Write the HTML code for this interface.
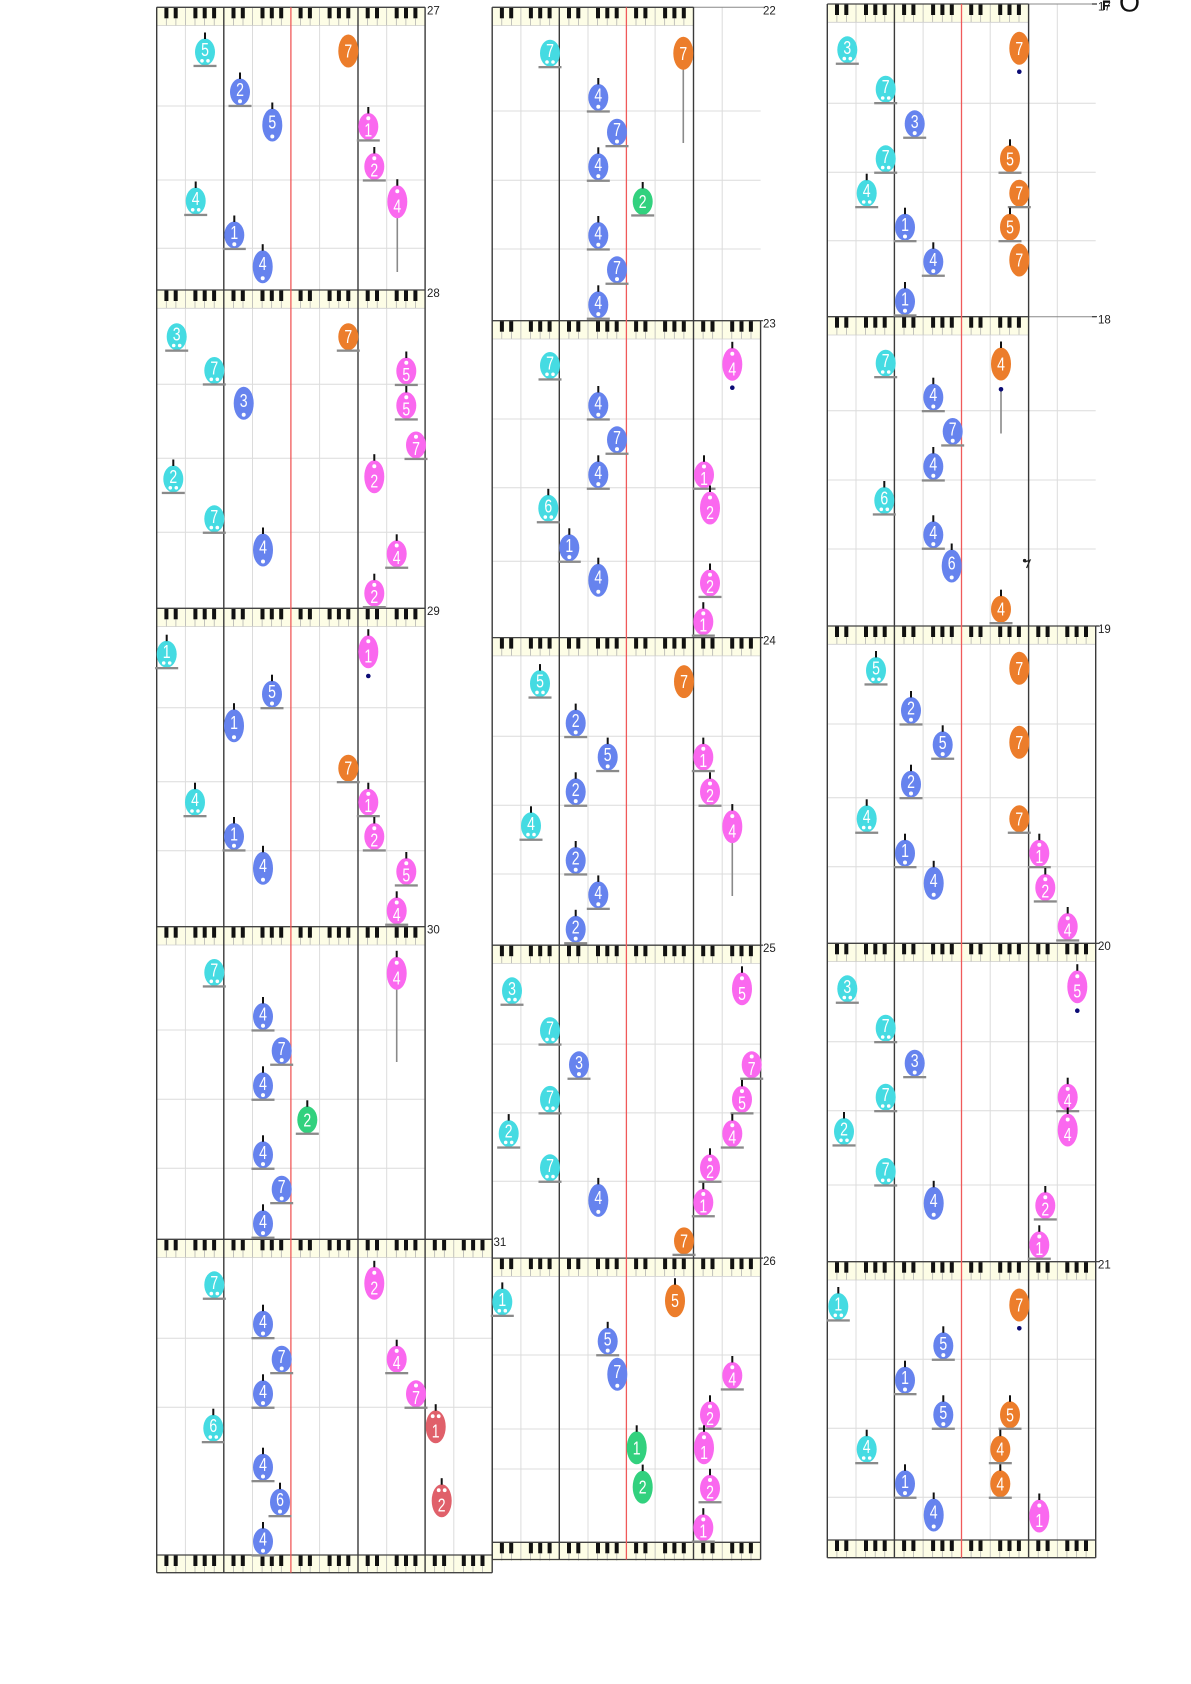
<!DOCTYPE html>
<html><head><meta charset="utf-8">
<style>
html,body{margin:0;padding:0;background:#fff;}
svg{display:block;}
.N text{fill:#fff;font-family:"Liberation Sans",sans-serif;font-size:18.5px;text-anchor:middle;transform:scaleX(.76);}
.L{font-family:"Liberation Sans",sans-serif;font-size:11.5px;fill:#222;}
</style></head>
<body>
<svg width="1191" height="1684" viewBox="0 0 1191 1684" xmlns="http://www.w3.org/2000/svg">
<defs>
<ellipse id="E" rx="10" ry="13.5"/>
<ellipse id="T" rx="10" ry="16.5"/>
<rect id="U" x="-11.5" y="12.8" width="23" height="2.3" fill="#8a8a8a"/>
<rect id="ks" x="-1" y="-19.5" width="2" height="6.5" fill="#111"/>
<rect id="kt" x="-1" y="-22.5" width="2" height="6.5" fill="#111"/>
<g id="cs" fill="#45dbe2"><use href="#E"/><use href="#U"/><circle cx="-3" cy="8.8" r="1.8" fill="#fff"/><circle cx="3" cy="8.8" r="1.8" fill="#fff"/></g>
<g id="bs" fill="#6683ee"><use href="#E"/><use href="#U"/><circle cx="0" cy="9.3" r="2" fill="#fff"/></g>
<g id="bt" fill="#6683ee"><use href="#T"/><circle cx="0" cy="11.5" r="2" fill="#fff"/></g>
<g id="ms" fill="#fa68ef"><use href="#E"/><use href="#U"/><circle cx="0" cy="-8.3" r="2" fill="#fff"/></g>
<g id="mt" fill="#fa68ef"><use href="#T"/><circle cx="0" cy="-10.5" r="2" fill="#fff"/></g>
<g id="os" fill="#ec7d2b"><use href="#E"/><use href="#U"/></g>
<g id="ot" fill="#ec7d2b"><use href="#T"/></g>
<g id="gs" fill="#32d17e"><use href="#E"/><use href="#U"/></g>
<g id="gt" fill="#32d17e"><use href="#T"/></g>
<g id="rt" fill="#e0606a"><use href="#T"/><circle cx="-3" cy="-10.5" r="1.9" fill="#fff"/><circle cx="3" cy="-10.5" r="1.9" fill="#fff"/></g>
<g id="K">
<rect width="67.1" height="18.3" fill="#fdfde6"/>
<path d="M9.6 11V18.3M19.2 11V18.3M28.7 0V18.3M38.3 11V18.3M47.9 11V18.3M57.5 11V18.3" stroke="#aaa" stroke-width=".7"/>
<rect x="7.7" width="4" height="11" fill="#111"/><rect x="17" width="4" height="11" fill="#111"/><rect x="36.7" width="4" height="11" fill="#111"/><rect x="46" width="4" height="11" fill="#111"/><rect x="55.4" width="4" height="11" fill="#111"/>
</g>
</defs>

<g stroke="#dcdcdc" stroke-width="1" fill="none">
<path d="M185.4 7.3V1572.7M252.5 7.3V1572.7M319.6 7.3V1572.7M386.7 7.3V1572.7M453.8 1239.3V1572.7"/>
<path d="M156.7 106H425.1M156.7 180H425.1M156.7 248.3H425.1M156.7 384.3H425.1M156.7 458.3H425.1M156.7 532.3H425.1M156.7 707.7H425.1M156.7 781.7H425.1M156.7 850.7H425.1M156.7 1030H425.1M156.7 1099.3H425.1M156.7 1168.3H425.1M156.7 1338.3H492.2M156.7 1407.3H492.2"/>
<path d="M520.9 7.3V1559.5M588 7.3V1559.5M655.1 7.3V1559.5M722.2 7.3V1559.5"/>
<path d="M492.2 111H760.6M492.2 180.3H760.6M492.2 249H760.6M492.2 419H760.6M492.2 487.7H760.6M492.2 561.3H760.6M492.2 736.2H760.6M492.2 805.3H760.6M492.2 874H760.6M492.2 1044.1H760.6M492.2 1112.9H760.6M492.2 1181.3H760.6M492.2 1355H760.6M492.2 1429H760.6M492.2 1469H760.6"/>
<path d="M856 4V1557.7M923.1 4V1557.7M990.2 4V1557.7M1057.3 4V1557.7"/>
<path d="M827.3 103.3H1095.7M827.3 172.3H1095.7M827.3 240.7H1095.7M827.3 410.7H1095.7M827.3 480H1095.7M827.3 549H1095.7M827.3 724H1095.7M827.3 797.7H1095.7M827.3 866.7H1095.7M827.3 1041.7H1095.7M827.3 1110.7H1095.7M827.3 1185H1095.7M827.3 1359.3H1095.7M827.3 1428.3H1095.7M827.3 1497.3H1095.7"/>
</g>

<use href="#K" x="156.7" y="7.3"/><use href="#K" x="223.8" y="7.3"/><use href="#K" x="290.9" y="7.3"/><use href="#K" x="358" y="7.3"/>
<use href="#K" x="156.7" y="290"/><use href="#K" x="223.8" y="290"/><use href="#K" x="290.9" y="290"/><use href="#K" x="358" y="290"/>
<use href="#K" x="156.7" y="608.3"/><use href="#K" x="223.8" y="608.3"/><use href="#K" x="290.9" y="608.3"/><use href="#K" x="358" y="608.3"/>
<use href="#K" x="156.7" y="926.7"/><use href="#K" x="223.8" y="926.7"/><use href="#K" x="290.9" y="926.7"/><use href="#K" x="358" y="926.7"/>
<use href="#K" x="156.7" y="1239.3"/><use href="#K" x="223.8" y="1239.3"/><use href="#K" x="290.9" y="1239.3"/><use href="#K" x="358" y="1239.3"/><use href="#K" x="425.1" y="1239.3"/>
<use href="#K" x="156.7" y="1555"/><use href="#K" x="223.8" y="1555"/><use href="#K" x="290.9" y="1555"/><use href="#K" x="358" y="1555"/><use href="#K" x="425.1" y="1555"/>
<use href="#K" x="492.2" y="7.3"/><use href="#K" x="559.3" y="7.3"/><use href="#K" x="626.4" y="7.3"/>
<use href="#K" x="492.2" y="320.7"/><use href="#K" x="559.3" y="320.7"/><use href="#K" x="626.4" y="320.7"/><use href="#K" x="693.5" y="320.7"/>
<use href="#K" x="492.2" y="637.6"/><use href="#K" x="559.3" y="637.6"/><use href="#K" x="626.4" y="637.6"/><use href="#K" x="693.5" y="637.6"/>
<use href="#K" x="492.2" y="945.2"/><use href="#K" x="559.3" y="945.2"/><use href="#K" x="626.4" y="945.2"/><use href="#K" x="693.5" y="945.2"/>
<use href="#K" x="492.2" y="1258.1"/><use href="#K" x="559.3" y="1258.1"/><use href="#K" x="626.4" y="1258.1"/><use href="#K" x="693.5" y="1258.1"/>
<use href="#K" x="492.2" y="1542.3"/><use href="#K" x="559.3" y="1542.3"/><use href="#K" x="626.4" y="1542.3"/><use href="#K" x="693.5" y="1542.3"/>
<use href="#K" x="827.3" y="4"/><use href="#K" x="894.4" y="4"/><use href="#K" x="961.5" y="4"/>
<use href="#K" x="827.3" y="316.7"/><use href="#K" x="894.4" y="316.7"/><use href="#K" x="961.5" y="316.7"/>
<use href="#K" x="827.3" y="626"/><use href="#K" x="894.4" y="626"/><use href="#K" x="961.5" y="626"/><use href="#K" x="1028.6" y="626"/>
<use href="#K" x="827.3" y="943.3"/><use href="#K" x="894.4" y="943.3"/><use href="#K" x="961.5" y="943.3"/><use href="#K" x="1028.6" y="943.3"/>
<use href="#K" x="827.3" y="1261.7"/><use href="#K" x="894.4" y="1261.7"/><use href="#K" x="961.5" y="1261.7"/><use href="#K" x="1028.6" y="1261.7"/>
<use href="#K" x="827.3" y="1540"/><use href="#K" x="894.4" y="1540"/><use href="#K" x="961.5" y="1540"/><use href="#K" x="1028.6" y="1540"/>

<g stroke="#cfcfcf" stroke-width=".8" fill="none">
<path d="M156.7 25.6H425.1M156.7 308.3H425.1M156.7 626.6H425.1M156.7 945H425.1M156.7 1257.6H492.2"/>
<path d="M492.2 25.6H693.5M492.2 339H760.6M492.2 655.9H760.6M492.2 963.5H760.6M492.2 1276.4H760.6"/>
<path d="M827.3 22.3H1028.6M827.3 335H1028.6M827.3 644.3H1095.7M827.3 961.6H1095.7M827.3 1280H1095.7"/>
</g>

<g stroke="#888" stroke-width="1" fill="none">
<path d="M693.5 7.3H764M1028.6 4H1096M1028.6 316.7H1096"/>
</g>
<g stroke="#333" stroke-width="1.2" fill="none">
<path d="M1092 4H1097M1092 316.7H1097M1095.7 626H1099M1095.7 943.3H1099M1095.7 1261.7H1099M760.6 320.7H763M760.6 637.6H763M760.6 945.2H763M760.6 1258.1H763"/>
</g>

<g stroke="#444" stroke-width="1.3" fill="none">
<path d="M156.7 7.3H425.1M156.7 290H425.1M156.7 608.3H425.1M156.7 926.7H425.1M156.7 1239.3H492.2M156.7 1555H492.2M156.7 1572.7H492.2"/>
<path d="M492.2 7.3H693.5M492.2 320.7H760.6M492.2 637.6H760.6M492.2 945.2H760.6M492.2 1258.1H760.6M492.2 1542.3H760.6M492.2 1559.5H760.6"/>
<path d="M827.3 4H1028.6M827.3 316.7H1028.6M827.3 626H1095.7M827.3 943.3H1095.7M827.3 1261.7H1095.7M827.3 1540H1095.7M827.3 1557.7H1095.7"/>
</g>

<g stroke="#3a3a3a" stroke-width="1.4" fill="none">
<path d="M156.7 7.3V1572.7M223.8 7.3V1572.7M358 7.3V1572.7M425.1 7.3V1572.7M492.2 1239.3V1572.7"/>
<path d="M492.2 7.3V1559.5M559.3 7.3V1559.5M693.5 7.3V1559.5M760.6 320.7V1559.5"/>
<path d="M827.3 4V1557.7M894.4 4V1557.7M1028.6 4V1557.7M1095.7 626V1557.7"/>
</g>
<g stroke="#f05a5a" stroke-width="1.3" fill="none">
<path d="M290.9 7.3V1572.7M626.4 7.3V1559.5M961.5 4V1557.7"/>
</g>

<g fill="#8a8a8a">
<rect x="396.5" y="216" width="1.6" height="56"/>
<rect x="395.9" y="989" width="1.6" height="73"/>
<rect x="682.5" y="69" width="1.6" height="74"/>
<rect x="731.5" y="842" width="1.6" height="54"/>
<rect x="1000.2" y="390" width="1.6" height="43.5"/>
</g>
<g fill="#0b0b75">
<circle cx="368.3" cy="676" r="2.3"/>
<circle cx="732.3" cy="387.7" r="2.3"/>
<circle cx="1019.3" cy="71.7" r="2.3"/>
<circle cx="1001" cy="389.3" r="2.3"/>
<circle cx="1077.3" cy="1010.7" r="2.3"/>
<circle cx="1019.3" cy="1328.3" r="2.3"/>
</g>
<circle cx="1024.6" cy="560.6" r="1.7" fill="#222"/>
<path d="M1024.6 562L1030 560.2L1026.6 568" stroke="#222" stroke-width="1.3" fill="none"/>

<g class="N">
<g transform="translate(205,52)"><use href="#cs"/><use href="#ks"/><text y="4">5</text></g>
<g transform="translate(348.3,51)"><use href="#ot"/><text y="6.5">7</text></g>
<g transform="translate(240,92)"><use href="#bs"/><use href="#ks"/><text y="4">2</text></g>
<g transform="translate(272.3,125)"><use href="#bt"/><use href="#kt"/><text y="3.5">5</text></g>
<g transform="translate(368.3,126.5)"><use href="#ms"/><use href="#ks"/><text y="10">1</text></g>
<g transform="translate(374.3,166.5)"><use href="#ms"/><use href="#ks"/><text y="10">2</text></g>
<g transform="translate(195.7,201)"><use href="#cs"/><use href="#ks"/><text y="4">4</text></g>
<g transform="translate(397.3,201.7)"><use href="#mt"/><use href="#kt"/><text y="11">4</text></g>
<g transform="translate(234.3,235)"><use href="#bs"/><use href="#ks"/><text y="4">1</text></g>
<g transform="translate(262.7,266.7)"><use href="#bt"/><use href="#kt"/><text y="3.5">4</text></g>
<g transform="translate(176.7,336.7)"><use href="#cs"/><text y="4">3</text></g>
<g transform="translate(348.3,336.7)"><use href="#os"/><text y="6.5">7</text></g>
<g transform="translate(214.3,370.5)"><use href="#cs"/><text y="4">7</text></g>
<g transform="translate(406.3,371)"><use href="#ms"/><use href="#ks"/><text y="10">5</text></g>
<g transform="translate(243.7,403.3)"><use href="#bt"/><text y="3.5">3</text></g>
<g transform="translate(406.3,405.5)"><use href="#ms"/><use href="#ks"/><text y="10">5</text></g>
<g transform="translate(416,445)"><use href="#ms"/><text y="10">7</text></g>
<g transform="translate(173.3,479)"><use href="#cs"/><use href="#ks"/><text y="4">2</text></g>
<g transform="translate(374.3,476.7)"><use href="#mt"/><use href="#kt"/><text y="11">2</text></g>
<g transform="translate(214.3,518.8)"><use href="#cs"/><text y="4">7</text></g>
<g transform="translate(263,550)"><use href="#bt"/><use href="#kt"/><text y="3.5">4</text></g>
<g transform="translate(396.7,553.8)"><use href="#ms"/><use href="#ks"/><text y="10">4</text></g>
<g transform="translate(374.3,593.2)"><use href="#ms"/><use href="#ks"/><text y="10">2</text></g>
<g transform="translate(166.7,654.2)"><use href="#cs"/><use href="#ks"/><text y="4">1</text></g>
<g transform="translate(368.3,651.7)"><use href="#mt"/><use href="#kt"/><text y="11">1</text></g>
<g transform="translate(272,694.2)"><use href="#bs"/><use href="#ks"/><text y="4">5</text></g>
<g transform="translate(234,725.7)"><use href="#bt"/><use href="#kt"/><text y="3.5">1</text></g>
<g transform="translate(348.3,768.2)"><use href="#os"/><text y="6.5">7</text></g>
<g transform="translate(195,802.2)"><use href="#cs"/><use href="#ks"/><text y="4">4</text></g>
<g transform="translate(368.3,802.2)"><use href="#ms"/><use href="#ks"/><text y="10">1</text></g>
<g transform="translate(234,836.5)"><use href="#bs"/><use href="#ks"/><text y="4">1</text></g>
<g transform="translate(374.3,836.5)"><use href="#ms"/><use href="#ks"/><text y="10">2</text></g>
<g transform="translate(263,868.3)"><use href="#bt"/><use href="#kt"/><text y="3.5">4</text></g>
<g transform="translate(406.3,871.5)"><use href="#ms"/><use href="#ks"/><text y="10">5</text></g>
<g transform="translate(396.7,910.8)"><use href="#ms"/><use href="#ks"/><text y="10">4</text></g>
<g transform="translate(214.3,972.5)"><use href="#cs"/><text y="4">7</text></g>
<g transform="translate(396.7,973.3)"><use href="#mt"/><use href="#kt"/><text y="11">4</text></g>
<g transform="translate(263,1016.5)"><use href="#bs"/><use href="#ks"/><text y="4">4</text></g>
<g transform="translate(281.7,1050.8)"><use href="#bs"/><text y="4">7</text></g>
<g transform="translate(263,1085.8)"><use href="#bs"/><use href="#ks"/><text y="4">4</text></g>
<g transform="translate(307.3,1119.8)"><use href="#gs"/><use href="#ks"/><text y="6.5">2</text></g>
<g transform="translate(263,1154.8)"><use href="#bs"/><use href="#ks"/><text y="4">4</text></g>
<g transform="translate(281.7,1189.2)"><use href="#bs"/><text y="4">7</text></g>
<g transform="translate(263,1223.8)"><use href="#bs"/><use href="#ks"/><text y="4">4</text></g>
<g transform="translate(214.3,1284.8)"><use href="#cs"/><text y="4">7</text></g>
<g transform="translate(374.3,1283.3)"><use href="#mt"/><use href="#kt"/><text y="11">2</text></g>
<g transform="translate(263,1324.2)"><use href="#bs"/><use href="#ks"/><text y="4">4</text></g>
<g transform="translate(281.7,1359.2)"><use href="#bs"/><text y="4">7</text></g>
<g transform="translate(396.7,1359.2)"><use href="#ms"/><use href="#ks"/><text y="10">4</text></g>
<g transform="translate(263,1393.8)"><use href="#bs"/><use href="#ks"/><text y="4">4</text></g>
<g transform="translate(416,1393.8)"><use href="#ms"/><text y="10">7</text></g>
<g transform="translate(213.3,1428.2)"><use href="#cs"/><use href="#ks"/><text y="4">6</text></g>
<g transform="translate(435.7,1426.7)"><use href="#rt"/><use href="#kt"/><text y="11">1</text></g>
<g transform="translate(263,1467.2)"><use href="#bs"/><use href="#ks"/><text y="4">4</text></g>
<g transform="translate(280,1502.2)"><use href="#bs"/><use href="#ks"/><text y="4">6</text></g>
<g transform="translate(441.7,1500.7)"><use href="#rt"/><use href="#kt"/><text y="11">2</text></g>
<g transform="translate(263,1541.5)"><use href="#bs"/><use href="#ks"/><text y="4">4</text></g>

<g transform="translate(550,53.2)"><use href="#cs"/><text y="4">7</text></g>
<g transform="translate(683.3,53.3)"><use href="#ot"/><text y="6.5">7</text></g>
<g transform="translate(598.3,97.5)"><use href="#bs"/><use href="#ks"/><text y="4">4</text></g>
<g transform="translate(617,132.2)"><use href="#bs"/><text y="4">7</text></g>
<g transform="translate(598.3,166.8)"><use href="#bs"/><use href="#ks"/><text y="4">4</text></g>
<g transform="translate(642.7,201.5)"><use href="#gs"/><use href="#ks"/><text y="6.5">2</text></g>
<g transform="translate(598.3,235.5)"><use href="#bs"/><use href="#ks"/><text y="4">4</text></g>
<g transform="translate(617,269.8)"><use href="#bs"/><text y="4">7</text></g>
<g transform="translate(598.3,304.8)"><use href="#bs"/><use href="#ks"/><text y="4">4</text></g>
<g transform="translate(550,365.5)"><use href="#cs"/><text y="4">7</text></g>
<g transform="translate(732.3,364.3)"><use href="#mt"/><use href="#kt"/><text y="11">4</text></g>
<g transform="translate(598.3,405.5)"><use href="#bs"/><use href="#ks"/><text y="4">4</text></g>
<g transform="translate(617,439.8)"><use href="#bs"/><text y="4">7</text></g>
<g transform="translate(598.3,474.8)"><use href="#bs"/><use href="#ks"/><text y="4">4</text></g>
<g transform="translate(704,474.8)"><use href="#ms"/><use href="#ks"/><text y="10">1</text></g>
<g transform="translate(548.3,508.3)"><use href="#cs"/><use href="#ks"/><text y="4">6</text></g>
<g transform="translate(710,508)"><use href="#mt"/><use href="#kt"/><text y="11">2</text></g>
<g transform="translate(569.3,547.8)"><use href="#bs"/><use href="#ks"/><text y="4">1</text></g>
<g transform="translate(598.3,580.2)"><use href="#bt"/><use href="#kt"/><text y="3.5">4</text></g>
<g transform="translate(710,583)"><use href="#ms"/><use href="#ks"/><text y="10">2</text></g>
<g transform="translate(703.3,621.7)"><use href="#ms"/><use href="#ks"/><text y="10">1</text></g>
<g transform="translate(540,683.6)"><use href="#cs"/><use href="#ks"/><text y="4">5</text></g>
<g transform="translate(684,681.6)"><use href="#ot"/><text y="6.5">7</text></g>
<g transform="translate(575.7,723.1)"><use href="#bs"/><use href="#ks"/><text y="4">2</text></g>
<g transform="translate(607.7,757.1)"><use href="#bs"/><use href="#ks"/><text y="4">5</text></g>
<g transform="translate(703.3,757.1)"><use href="#ms"/><use href="#ks"/><text y="10">1</text></g>
<g transform="translate(575.7,791.8)"><use href="#bs"/><use href="#ks"/><text y="4">2</text></g>
<g transform="translate(710,791.8)"><use href="#ms"/><use href="#ks"/><text y="10">2</text></g>
<g transform="translate(531,825.8)"><use href="#cs"/><use href="#ks"/><text y="4">4</text></g>
<g transform="translate(732.3,826.6)"><use href="#mt"/><use href="#kt"/><text y="11">4</text></g>
<g transform="translate(575.7,860.5)"><use href="#bs"/><use href="#ks"/><text y="4">2</text></g>
<g transform="translate(598.3,894.9)"><use href="#bs"/><use href="#ks"/><text y="4">4</text></g>
<g transform="translate(575.7,929.3)"><use href="#bs"/><use href="#ks"/><text y="4">2</text></g>
<g transform="translate(512,990.8)"><use href="#cs"/><text y="4">3</text></g>
<g transform="translate(742,988.8)"><use href="#mt"/><use href="#kt"/><text y="11">5</text></g>
<g transform="translate(550,1030.6)"><use href="#cs"/><text y="4">7</text></g>
<g transform="translate(579,1064.8)"><use href="#bs"/><text y="4">3</text></g>
<g transform="translate(751.7,1064.8)"><use href="#ms"/><text y="10">7</text></g>
<g transform="translate(550,1099.4)"><use href="#cs"/><text y="4">7</text></g>
<g transform="translate(742,1099.4)"><use href="#ms"/><use href="#ks"/><text y="10">5</text></g>
<g transform="translate(508.7,1133.6)"><use href="#cs"/><use href="#ks"/><text y="4">2</text></g>
<g transform="translate(732.3,1133.6)"><use href="#ms"/><use href="#ks"/><text y="10">4</text></g>
<g transform="translate(550,1167.8)"><use href="#cs"/><text y="4">7</text></g>
<g transform="translate(710,1167.8)"><use href="#ms"/><use href="#ks"/><text y="10">2</text></g>
<g transform="translate(598.3,1200.4)"><use href="#bt"/><use href="#kt"/><text y="3.5">4</text></g>
<g transform="translate(703.3,1202.3)"><use href="#ms"/><use href="#ks"/><text y="10">1</text></g>
<g transform="translate(684,1240.9)"><use href="#os"/><text y="6.5">7</text></g>
<g transform="translate(502.3,1301.9)"><use href="#cs"/><use href="#ks"/><text y="4">1</text></g>
<g transform="translate(675,1300.7)"><use href="#ot"/><use href="#kt"/><text y="6.5">5</text></g>
<g transform="translate(607.7,1341.3)"><use href="#bs"/><use href="#ks"/><text y="4">5</text></g>
<g transform="translate(617.3,1374.3)"><use href="#bt"/><text y="3.5">7</text></g>
<g transform="translate(732.3,1375.5)"><use href="#ms"/><use href="#ks"/><text y="10">4</text></g>
<g transform="translate(710,1414.8)"><use href="#ms"/><use href="#ks"/><text y="10">2</text></g>
<g transform="translate(636.7,1447.8)"><use href="#gt"/><use href="#kt"/><text y="6.5">1</text></g>
<g transform="translate(704,1447.8)"><use href="#mt"/><use href="#kt"/><text y="11">1</text></g>
<g transform="translate(642.7,1487.1)"><use href="#gt"/><use href="#kt"/><text y="6.5">2</text></g>
<g transform="translate(710,1488.3)"><use href="#ms"/><use href="#ks"/><text y="10">2</text></g>
<g transform="translate(703.3,1527.7)"><use href="#ms"/><use href="#ks"/><text y="10">1</text></g>

<g transform="translate(847.3,49.8)"><use href="#cs"/><text y="4">3</text></g>
<g transform="translate(1019.3,48.3)"><use href="#ot"/><text y="6.5">7</text></g>
<g transform="translate(885.7,89.2)"><use href="#cs"/><text y="4">7</text></g>
<g transform="translate(914.7,123.8)"><use href="#bs"/><text y="4">3</text></g>
<g transform="translate(885.7,158.8)"><use href="#cs"/><text y="4">7</text></g>
<g transform="translate(1010,158.8)"><use href="#os"/><use href="#ks"/><text y="6.5">5</text></g>
<g transform="translate(866.7,193.2)"><use href="#cs"/><use href="#ks"/><text y="4">4</text></g>
<g transform="translate(1019.3,193.2)"><use href="#os"/><text y="6.5">7</text></g>
<g transform="translate(905,227.2)"><use href="#bs"/><use href="#ks"/><text y="4">1</text></g>
<g transform="translate(1010,227.2)"><use href="#os"/><use href="#ks"/><text y="6.5">5</text></g>
<g transform="translate(933.3,261.8)"><use href="#bs"/><use href="#ks"/><text y="4">4</text></g>
<g transform="translate(1019.3,260)"><use href="#ot"/><text y="6.5">7</text></g>
<g transform="translate(905,301.5)"><use href="#bs"/><use href="#ks"/><text y="4">1</text></g>
<g transform="translate(885.7,363.2)"><use href="#cs"/><text y="4">7</text></g>
<g transform="translate(1001,364)"><use href="#ot"/><use href="#kt"/><text y="6.5">4</text></g>
<g transform="translate(933.3,397.2)"><use href="#bs"/><use href="#ks"/><text y="4">4</text></g>
<g transform="translate(952.7,431.5)"><use href="#bs"/><text y="4">7</text></g>
<g transform="translate(933.3,466.5)"><use href="#bs"/><use href="#ks"/><text y="4">4</text></g>
<g transform="translate(884.3,500.5)"><use href="#cs"/><use href="#ks"/><text y="4">6</text></g>
<g transform="translate(933.3,534.8)"><use href="#bs"/><use href="#ks"/><text y="4">4</text></g>
<g transform="translate(951.7,566)"><use href="#bt"/><use href="#kt"/><text y="3.5">6</text></g>
<g transform="translate(1001,609.2)"><use href="#os"/><use href="#ks"/><text y="6.5">4</text></g>
<g transform="translate(876,670.5)"><use href="#cs"/><use href="#ks"/><text y="4">5</text></g>
<g transform="translate(1019.3,668.3)"><use href="#ot"/><text y="6.5">7</text></g>
<g transform="translate(911,710.5)"><use href="#bs"/><use href="#ks"/><text y="4">2</text></g>
<g transform="translate(942.7,744.8)"><use href="#bs"/><use href="#ks"/><text y="4">5</text></g>
<g transform="translate(1019.3,742.3)"><use href="#ot"/><text y="6.5">7</text></g>
<g transform="translate(911,784.2)"><use href="#bs"/><use href="#ks"/><text y="4">2</text></g>
<g transform="translate(866.7,818.8)"><use href="#cs"/><use href="#ks"/><text y="4">4</text></g>
<g transform="translate(1019.3,818.8)"><use href="#os"/><text y="6.5">7</text></g>
<g transform="translate(905,853.2)"><use href="#bs"/><use href="#ks"/><text y="4">1</text></g>
<g transform="translate(1039.3,853.2)"><use href="#ms"/><use href="#ks"/><text y="10">1</text></g>
<g transform="translate(933.7,883.3)"><use href="#bt"/><use href="#kt"/><text y="3.5">4</text></g>
<g transform="translate(1045.3,887.5)"><use href="#ms"/><use href="#ks"/><text y="10">2</text></g>
<g transform="translate(1067.7,926.5)"><use href="#ms"/><use href="#ks"/><text y="10">4</text></g>
<g transform="translate(847.3,988.8)"><use href="#cs"/><text y="4">3</text></g>
<g transform="translate(1077.3,986.7)"><use href="#mt"/><use href="#kt"/><text y="11">5</text></g>
<g transform="translate(885.7,1028.2)"><use href="#cs"/><text y="4">7</text></g>
<g transform="translate(914.7,1063.2)"><use href="#bs"/><text y="4">3</text></g>
<g transform="translate(885.7,1097.2)"><use href="#cs"/><text y="4">7</text></g>
<g transform="translate(1067.7,1097.2)"><use href="#ms"/><use href="#ks"/><text y="10">4</text></g>
<g transform="translate(844,1131.5)"><use href="#cs"/><use href="#ks"/><text y="4">2</text></g>
<g transform="translate(1067.7,1130)"><use href="#mt"/><use href="#kt"/><text y="11">4</text></g>
<g transform="translate(885.7,1171.5)"><use href="#cs"/><text y="4">7</text></g>
<g transform="translate(933.7,1203.3)"><use href="#bt"/><use href="#kt"/><text y="3.5">4</text></g>
<g transform="translate(1045.3,1205.5)"><use href="#ms"/><use href="#ks"/><text y="10">2</text></g>
<g transform="translate(1039.3,1244.8)"><use href="#ms"/><use href="#ks"/><text y="10">1</text></g>
<g transform="translate(838.3,1306.5)"><use href="#cs"/><use href="#ks"/><text y="4">1</text></g>
<g transform="translate(1019.3,1305)"><use href="#ot"/><text y="6.5">7</text></g>
<g transform="translate(943.3,1345.8)"><use href="#bs"/><use href="#ks"/><text y="4">5</text></g>
<g transform="translate(905,1380.2)"><use href="#bs"/><use href="#ks"/><text y="4">1</text></g>
<g transform="translate(943.3,1414.8)"><use href="#bs"/><use href="#ks"/><text y="4">5</text></g>
<g transform="translate(1010,1414.8)"><use href="#os"/><use href="#ks"/><text y="6.5">5</text></g>
<g transform="translate(866.7,1449.2)"><use href="#cs"/><use href="#ks"/><text y="4">4</text></g>
<g transform="translate(1000.3,1449.2)"><use href="#os"/><use href="#ks"/><text y="6.5">4</text></g>
<g transform="translate(905,1483.8)"><use href="#bs"/><use href="#ks"/><text y="4">1</text></g>
<g transform="translate(1000.3,1483.8)"><use href="#os"/><use href="#ks"/><text y="6.5">4</text></g>
<g transform="translate(933.7,1515)"><use href="#bt"/><use href="#kt"/><text y="3.5">4</text></g>
<g transform="translate(1039.3,1516)"><use href="#mt"/><use href="#kt"/><text y="11">1</text></g>
</g>

<g class="L">
<text x="427" y="14.5">27</text>
<text x="427" y="297">28</text>
<text x="427" y="615">29</text>
<text x="427" y="933.5">30</text>
<text x="493.5" y="1246">31</text>
<text x="763" y="14.5">22</text>
<text x="763" y="327.5">23</text>
<text x="763" y="644.5">24</text>
<text x="763" y="952">25</text>
<text x="763" y="1265">26</text>
<text x="1098" y="10.5">17</text>
<text x="1098" y="323.5">18</text>
<text x="1098" y="633">19</text>
<text x="1098" y="950">20</text>
<text x="1098" y="1268.5">21</text>
</g>
<text x="1102" y="10" font-family="Liberation Sans, sans-serif" font-size="14" font-weight="bold" fill="#111">F</text>
<text x="1119" y="11.5" font-family="Liberation Sans, sans-serif" font-size="27" fill="#111">O</text>
</svg>
</body></html>
